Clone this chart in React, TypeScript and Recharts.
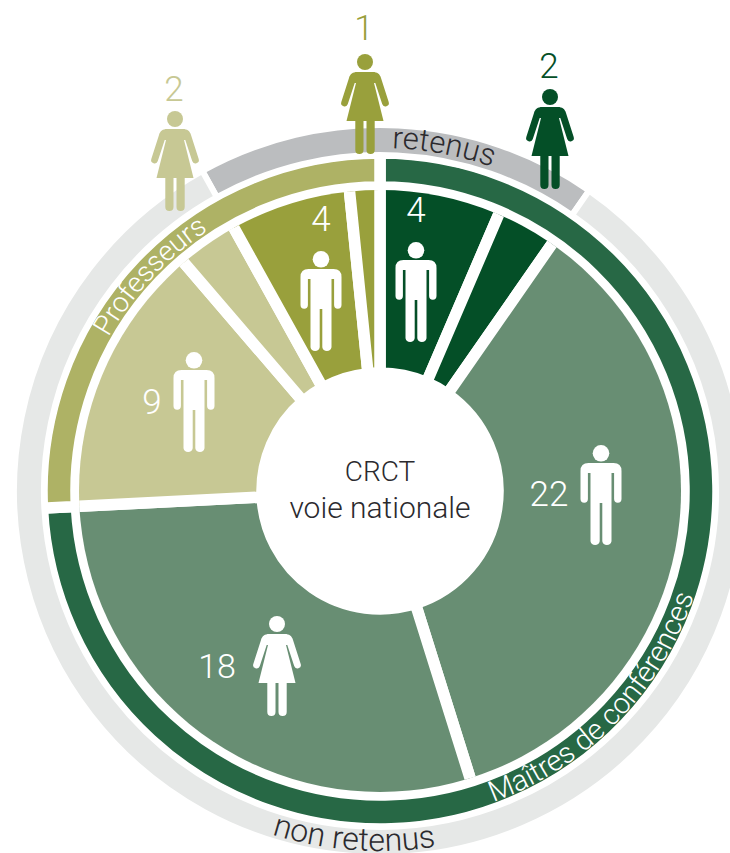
import { PieChart, Pie, Sector } from 'recharts'

// Applications per group, clockwise from 12 o'clock
const SLICE_NAMES = [
  'MCF retenus H',
  'MCF retenus F',
  'MCF non retenus H',
  'MCF non retenus F',
  'PR non retenus H',
  'PR non retenus F',
  'PR retenus H',
  'PR retenus F',
]
const SLICE_VALUES = [4, 2, 22, 18, 9, 2, 4, 1]
const SLICE_COLORS = [
  '#044f27',
  '#044f27',
  '#688e73',
  '#688e73',
  '#c7c894',
  '#c7c894',
  '#99a03c',
  '#99a03c',
]

const GROUP_NAMES = ['Maîtres de conférences', 'Professeurs']
const GROUP_VALUES = [46, 16]
const GROUP_COLORS = ['#276845', '#aeb265']

const RESULT_NAMES = ['retenus', 'non retenus']
const RESULT_VALUES = [11, 51]
const RESULT_COLORS = ['#bbbdbf', '#e6e8e7']
const RETENUS_PR = 5 // part of "retenus" sitting left of 12 o'clock

const TOTAL = 62
const CX = 380
const CY = 491
const FONT = 'Roboto, sans-serif'

const toRows = (names: string[], values: number[], colors: string[]) =>
  names.map((name, i) => ({ name, value: values[i], fill: colors[i] }))

// angle in degrees, clockwise from the top
const polar = (r: number, deg: number) => {
  const a = (deg * Math.PI) / 180
  return [CX + r * Math.sin(a), CY - r * Math.cos(a)]
}

const arcPath = (r: number, from: number, to: number) => {
  const [x0, y0] = polar(r, from)
  const [x1, y1] = polar(r, to)
  const large = Math.abs(to - from) > 180 ? 1 : 0
  return `M${x0} ${y0}A${r} ${r} 0 ${large} ${to > from ? 1 : 0} ${x1} ${y1}`
}

const ClippedSlice = (props: any) => <Sector {...props} clipPath="url(#disc)" />

const Man = ({ x, y, fill }: { x: number; y: number; fill: string }) => (
  <g transform={`translate(${x - 20.5} ${y})`} fill={fill}>
    <circle cx={20.5} cy={8.3} r={8.3} />
    <path d="M8 18H33Q41 18 41 26V54A3.7 3.7 0 0 1 33.6 54V28H31V96.3A4.7 4.7 0 0 1 21.8 96.3V58H19.2V96.3A4.7 4.7 0 0 1 10 96.3V28H7.4V54A3.7 3.7 0 0 1 0 54V26Q0 18 8 18Z" />
  </g>
)

const Woman = ({ x, y, fill }: { x: number; y: number; fill: string }) => (
  <g transform={`translate(${x - 24} ${y})`} fill={fill}>
    <circle cx={24} cy={8} r={8} />
    <path d="M16 18H32C36 18 39 20 40 24L47.7 48A3.4 3.4 0 0 1 41.2 50L34.3 29H33L42.5 67H33.7V96A4.1 4.1 0 0 1 25.5 96V67H22.5V96A4.1 4.1 0 0 1 14.3 96V67H5.5L15 29H13.7L6.8 50A3.4 3.4 0 0 1 .3 48L8 24C9 20 12 18 16 18Z" />
  </g>
)

const Num = ({ x, y, fill = '#fff', size = 35, children }: any) => (
  <text x={x} y={y} fill={fill} fontFamily={FONT} fontWeight={300} fontSize={size} textAnchor="middle">
    {children}
  </text>
)

const Curved = ({ id, fill, size, children }: any) => (
  <text fill={fill} fontFamily={FONT} fontWeight={300} fontSize={size}>
    <textPath href={`#${id}`}>{children}</textPath>
  </text>
)

export default function App() {
  const retenusStart = 90 + (RETENUS_PR / TOTAL) * 360

  return (
    <div style={{ position: 'absolute', left: 0, top: 0, width: 730, height: 853, overflow: 'hidden' }}>
      <PieChart width={730} height={853} margin={{ top: 0, right: 0, bottom: 0, left: 0 }}>
        <defs>
          <clipPath id="disc">
            <circle cx={CX} cy={CY} r={301} />
          </clipPath>
        </defs>

        <Pie
          data={toRows(GROUP_NAMES, GROUP_VALUES, GROUP_COLORS)}
          dataKey="value"
          cx={CX}
          cy={CY}
          innerRadius={304}
          outerRadius={338}
          startAngle={90}
          endAngle={-270}
          stroke="#fff"
          strokeWidth={11.5}
          labelLine={false}
          isAnimationActive={false}
        />
        <Pie
          data={toRows(RESULT_NAMES, RESULT_VALUES, RESULT_COLORS)}
          dataKey="value"
          cx={CX}
          cy={CY}
          innerRadius={336}
          outerRadius={366}
          startAngle={retenusStart}
          endAngle={retenusStart - 360}
          stroke="#fff"
          strokeWidth={6}
          labelLine={false}
          isAnimationActive={false}
        />
        <Pie
          data={toRows(SLICE_NAMES, SLICE_VALUES, SLICE_COLORS)}
          dataKey="value"
          cx={CX}
          cy={CY}
          innerRadius={118}
          outerRadius={312}
          startAngle={90}
          endAngle={-270}
          stroke="#fff"
          strokeWidth={11.5}
          labelLine={false}
          shape={ClippedSlice}
          isAnimationActive={false}
        />
      </PieChart>

      {/* text and pictograms sit above the pies */}
      <svg width={730} height={853} style={{ position: 'absolute', left: 0, top: 0, pointerEvents: 'none' }}>
        <defs>
          <path id="arc-retenus" d={arcPath(343, 2, 40)} />
          <path id="arc-professeurs" d={arcPath(312, -60.5, -20)} />
          <path id="arc-maitres" d={arcPath(331, 160, 100)} />
          <path id="arc-non" d={arcPath(360, 197.5, 160)} />
        </defs>

        <Curved id="arc-retenus" fill="#2b2a2e" size={31}>retenus</Curved>
        <Curved id="arc-professeurs" fill="#fff" size={28}>Professeurs</Curved>
        <Curved id="arc-maitres" fill="#fff" size={29}>Maîtres de conférences</Curved>
        <Curved id="arc-non" fill="#2b2a2e" size={32}>non retenus</Curved>

        <text x={CX} y={481} fill="#2b2a2e" fontFamily={FONT} fontWeight={300} fontSize={28} textAnchor="middle">CRCT</text>
        <text x={CX} y={518} fill="#2b2a2e" fontFamily={FONT} fontWeight={300} fontSize={30} textAnchor="middle">voie nationale</text>

        <Woman x={365} y={54} fill="#99a03c" />
        <Woman x={550} y={89} fill="#044f27" />
        <Woman x={175} y={111} fill="#c7c894" />
        <Man x={321} y={251} fill="#fff" />
        <Man x={416} y={242} fill="#fff" />
        <Man x={194} y={352} fill="#fff" />
        <Man x={601} y={445} fill="#fff" />
        <Woman x={277} y={616} fill="#fff" />

        <Num x={364} y={40} fill="#99a03c">1</Num>
        <Num x={549} y={78} fill="#044f27">2</Num>
        <Num x={174} y={101} fill="#c7c894">2</Num>
        <Num x={321} y={231}>4</Num>
        <Num x={416} y={222}>4</Num>
        <Num x={152} y={414}>9</Num>
        <Num x={549} y={506}>22</Num>
        <Num x={217} y={678} size={34}>18</Num>
      </svg>
    </div>
  )
}
